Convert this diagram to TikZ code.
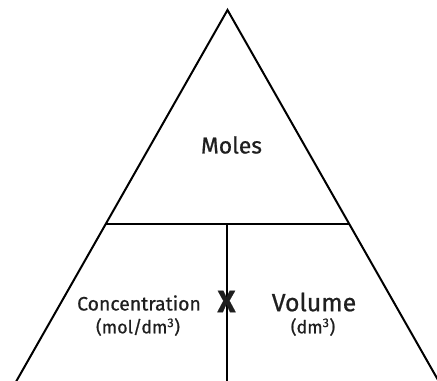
\documentclass[tikz,border=0pt]{standalone}
\usepackage{fontspec}
\setmainfont{Fira Sans}[FakeBold=0.7]
\usepackage{tikz}
\usetikzlibrary{calc}

\begin{document}
\begin{tikzpicture}[x=1bp,y=-1bp,line width=2bp,
  lbl/.style={inner sep=0pt,text=black!88}]
\useasboundingbox (0,0) rectangle (437,380);
\clip (0,0) rectangle (437,380);
\coordinate (apex) at (227.5,10);
\coordinate (baseL) at (13,387);
\coordinate (baseR) at (442,387);
\coordinate (midL) at ($(apex)!0.568!(baseL)$);
\coordinate (midR) at ($(apex)!0.568!(baseR)$);
\draw[line join=miter] (baseL) -- (apex) -- (baseR);
\draw (midL) -- (midR);
\coordinate (foot) at (227,382);
\draw (227,224) -- (foot);
\node[lbl,font=\fontsize{23}{28}\selectfont] (moles) at (231.5,145) {Moles};
\node[lbl,font=\fontsize{19.5}{22}\selectfont] (conc) at (139,303) {Concentration};
\node[lbl,font=\fontsize{18}{22}\selectfont] (concunit) at (138,327) {(mol/dm\textsuperscript{3})};
\node[lbl,font=\fontsize{25}{28}\selectfont] (vol) at (314,302) {Volume};
\node[lbl,font=\fontsize{18}{22}\selectfont] (volunit) at (313,327) {(dm\textsuperscript{3})};
\node[lbl,font=\fontsize{31}{32}\selectfont\bfseries] (times) at (226.5,301.5) {X};
\end{tikzpicture}
\end{document}
